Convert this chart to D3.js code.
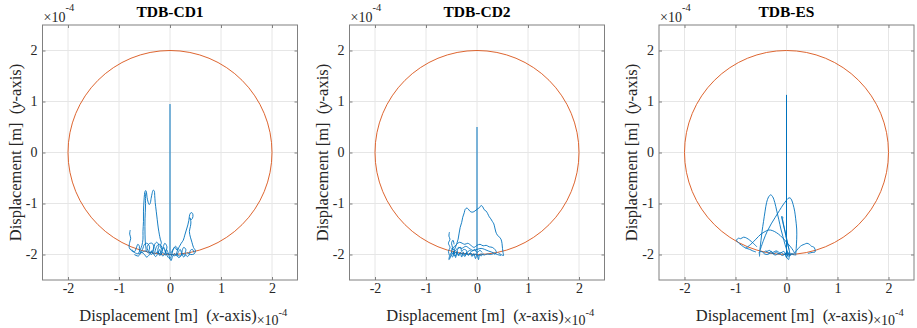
<!DOCTYPE html>
<html>
<head>
<meta charset="utf-8">
<script src="https://cdn.jsdelivr.net/npm/d3@7"></script>
<style>
  body { margin: 0; background: #fff; }
  svg { display: block; }
  svg text { font-family: "Liberation Serif", "Times New Roman", serif; }
</style>
</head>
<body>
<svg id="chart" width="917" height="328"></svg>
<script>
// values in units of 1e-4 m
const titles = ["TDB-CD1", "TDB-CD2", "TDB-ES"];
const ticks = [-2, -1, 0, 1, 2];
const tickLabels = ["-2", "-1", "0", "1", "2"];
const circleRadius = 2;
const spikeTops = [0.95, 0.5, 1.13];

const cd1Traces = [
    [[-0.62,-1.98],[-0.58,-1.9],[-0.55,-1.82],[-0.53,-1.7],[-0.53,-1.55],[-0.52,-1.35],[-0.52,-1.15],[-0.51,-0.95],[-0.5,-0.82],[-0.49,-0.76],[-0.47,-0.75],[-0.46,-0.79],[-0.45,-0.88],[-0.43,-0.97],[-0.41,-1.02],[-0.39,-1.0],[-0.37,-0.9],[-0.35,-0.8],[-0.33,-0.74],[-0.31,-0.75],[-0.3,-0.84],[-0.29,-0.98],[-0.27,-1.15],[-0.25,-1.32],[-0.23,-1.48],[-0.21,-1.6],[-0.19,-1.7],[-0.17,-1.77],[-0.19,-1.84],[-0.15,-1.9],[-0.12,-1.86],[-0.1,-1.93],[-0.07,-2.0]],
    [[-0.46,-1.95],[-0.48,-1.82],[-0.49,-1.6],[-0.49,-1.3],[-0.48,-1.05],[-0.48,-0.86],[-0.47,-0.78]],
    [[0.02,-1.97],[0.06,-1.9],[0.1,-1.86],[0.14,-1.92],[0.18,-1.85],[0.22,-1.78],[0.26,-1.72],[0.29,-1.62],[0.32,-1.52],[0.35,-1.42],[0.37,-1.33],[0.38,-1.25],[0.4,-1.19],[0.43,-1.18],[0.45,-1.22],[0.44,-1.29],[0.41,-1.32],[0.39,-1.28],[0.41,-1.36],[0.4,-1.45],[0.38,-1.55],[0.4,-1.66],[0.43,-1.76],[0.46,-1.86],[0.5,-1.93],[0.47,-1.99],[0.4,-2.0],[0.33,-1.96]],
    [[-0.78,-1.52],[-0.79,-1.6],[-0.77,-1.68],[-0.79,-1.76],[-0.8,-1.86],[-0.76,-1.92],[-0.7,-1.95],[-0.66,-1.87],[-0.63,-1.8],[-0.6,-1.84],[-0.6,-1.92],[-0.55,-1.97]],
    [[-0.75,-1.9],[-0.68,-1.97],[-0.6,-1.98],[-0.54,-1.9],[-0.5,-1.8],[-0.45,-1.78],[-0.4,-1.85],[-0.41,-1.95],[-0.36,-2.0],[-0.32,-1.9],[-0.3,-1.8],[-0.26,-1.76],[-0.22,-1.82],[-0.24,-1.92],[-0.2,-2.02],[-0.16,-1.96],[-0.13,-1.84],[-0.1,-1.78],[-0.06,-1.85],[-0.08,-1.95],[-0.04,-2.05],[0.0,-2.08],[0.04,-1.98],[0.07,-1.88],[0.11,-1.84],[0.15,-1.9],[0.13,-1.98],[0.17,-2.06],[0.22,-2.02],[0.24,-1.92],[0.27,-1.86],[0.31,-1.9],[0.3,-1.98],[0.34,-2.04],[0.38,-2.0],[0.4,-1.92],[0.44,-1.9],[0.47,-1.96]],
    [[-0.7,-2.0],[-0.62,-2.03],[-0.56,-1.96],[-0.5,-2.0],[-0.46,-2.05],[-0.4,-2.0],[-0.36,-1.93],[-0.33,-1.98],[-0.28,-2.04],[-0.24,-1.98],[-0.2,-1.9],[-0.18,-1.97],[-0.14,-2.03],[-0.1,-1.98],[-0.07,-1.9],[-0.04,-1.96],[-0.02,-2.02],[0.02,-2.12],[0.05,-2.04],[0.09,-1.98],[0.12,-2.03],[0.16,-1.96],[0.2,-1.9],[0.23,-1.98],[0.27,-2.05],[0.3,-2.0]],
    [[-0.55,-1.96],[-0.48,-1.93],[-0.42,-1.97],[-0.37,-1.95],[-0.3,-1.99],[-0.25,-1.95],[-0.19,-2.0],[-0.14,-1.96],[-0.09,-2.01],[-0.05,-1.98],[0.0,-2.01],[0.04,-1.99],[0.08,-2.03],[0.13,-1.99],[0.19,-2.03],[0.25,-1.99],[0.3,-2.02]],
    [[-0.42,-1.95],[-0.45,-1.86],[-0.41,-1.79],[-0.35,-1.78],[-0.32,-1.85],[-0.35,-1.94],[-0.4,-1.97]],
    [[-0.3,-1.97],[-0.27,-1.86],[-0.22,-1.8],[-0.17,-1.83],[-0.16,-1.92],[-0.2,-1.98],[-0.25,-1.95]]
];

const cd2Traces = [
    [[-0.47,-1.98],[-0.44,-1.9],[-0.4,-1.8],[-0.37,-1.7],[-0.35,-1.58],[-0.33,-1.47],[-0.3,-1.37],[-0.28,-1.27],[-0.25,-1.18],[-0.23,-1.11],[-0.2,-1.09],[-0.17,-1.11],[-0.14,-1.15],[-0.1,-1.17],[-0.06,-1.16],[-0.02,-1.13],[0.02,-1.1],[0.05,-1.08],[0.08,-1.04],[0.11,-1.06],[0.14,-1.12],[0.18,-1.15],[0.21,-1.2],[0.24,-1.26],[0.27,-1.3],[0.3,-1.35],[0.33,-1.4],[0.35,-1.48],[0.37,-1.56],[0.4,-1.62],[0.44,-1.66],[0.47,-1.7],[0.49,-1.78],[0.5,-1.88],[0.51,-1.96],[0.52,-2.02],[0.47,-2.0],[0.42,-1.97]],
    [[-0.5,-1.92],[-0.45,-1.85],[-0.4,-1.8],[-0.34,-1.76],[-0.29,-1.78],[-0.24,-1.8],[-0.18,-1.78],[-0.12,-1.82],[-0.06,-1.86],[0.0,-1.82],[0.06,-1.8],[0.12,-1.83],[0.18,-1.82],[0.24,-1.85],[0.3,-1.86],[0.35,-1.9],[0.38,-1.96],[0.34,-2.0]],
    [[-0.48,-1.98],[-0.42,-1.92],[-0.36,-1.86],[-0.3,-1.88],[-0.22,-1.84],[-0.15,-1.88],[-0.08,-1.92],[0.0,-1.9],[0.08,-1.88],[0.15,-1.9],[0.22,-1.93],[0.28,-1.95],[0.33,-1.97],[0.4,-2.0],[0.47,-2.02]],
    [[-0.54,-1.56],[-0.55,-1.64],[-0.53,-1.7],[-0.56,-1.78],[-0.53,-1.86],[-0.56,-1.94],[-0.54,-2.02],[-0.55,-2.1],[-0.52,-2.05],[-0.5,-1.95],[-0.48,-1.86],[-0.5,-1.78],[-0.47,-1.72],[-0.45,-1.8]],
    [[-0.52,-1.98],[-0.48,-2.05],[-0.45,-1.95],[-0.42,-2.06],[-0.39,-1.94],[-0.36,-2.03],[-0.33,-1.96],[-0.3,-2.05],[-0.27,-1.95],[-0.24,-2.04],[-0.2,-1.97],[-0.17,-2.02],[-0.13,-1.96],[-0.1,-2.04],[-0.06,-1.98],[-0.03,-2.08],[0.0,-2.0],[0.03,-2.1],[0.05,-2.0],[0.08,-2.03],[0.12,-1.98]],
    [[-0.5,-1.95],[-0.46,-1.99],[-0.41,-1.96],[-0.37,-2.0],[-0.32,-1.97],[-0.27,-2.01],[-0.22,-1.98],[-0.17,-2.0],[-0.12,-1.98],[-0.07,-2.01],[-0.02,-1.99],[0.03,-2.02],[0.08,-1.99],[0.14,-2.01],[0.2,-1.99],[0.27,-2.0],[0.33,-1.98]],
    [[-0.5,-1.88],[-0.44,-1.92],[-0.47,-2.0],[-0.41,-2.02],[-0.38,-1.9],[-0.32,-1.86],[-0.3,-1.94],[-0.26,-1.9],[-0.2,-1.93],[-0.22,-2.0],[-0.15,-1.92],[-0.1,-1.94],[-0.05,-1.9],[0.0,-1.96],[0.06,-1.92],[0.1,-1.96]]
];

const esTraces = [
    [[-0.53,-2.04],[-0.52,-1.9],[-0.5,-1.72],[-0.48,-1.55],[-0.45,-1.35],[-0.42,-1.15],[-0.39,-0.98],[-0.35,-0.87],[-0.31,-0.83],[-0.27,-0.87],[-0.23,-0.98],[-0.19,-1.15],[-0.15,-1.32],[-0.11,-1.5],[-0.07,-1.65],[-0.03,-1.8],[0.01,-1.92],[0.05,-2.0]],
    [[-0.52,-1.92],[-0.45,-1.72],[-0.38,-1.55],[-0.3,-1.4],[-0.22,-1.27],[-0.14,-1.14],[-0.07,-1.03],[-0.01,-0.95],[0.03,-0.9],[0.07,-0.89],[0.1,-0.93],[0.13,-1.02],[0.16,-1.15],[0.18,-1.3],[0.2,-1.5],[0.2,-1.7],[0.19,-1.88],[0.18,-2.02]],
    [[-0.1,-1.25],[-0.08,-1.3],[-0.06,-1.4],[-0.03,-1.55],[0.0,-1.7],[0.03,-1.82],[0.06,-1.95],[0.08,-2.02]],
    [[-0.06,-1.28],[-0.09,-1.26],[-0.07,-1.38],[-0.04,-1.5],[-0.01,-1.62],[0.02,-1.78],[0.05,-1.9]],
    [[-0.8,-1.88],[-0.7,-1.8],[-0.6,-1.7],[-0.5,-1.6],[-0.42,-1.55],[-0.35,-1.52],[-0.28,-1.53],[-0.2,-1.57],[-0.12,-1.63],[-0.05,-1.7],[0.02,-1.78],[0.08,-1.85],[0.13,-1.92],[0.16,-1.98]],
    [[-0.58,-1.85],[-0.65,-1.78],[-0.72,-1.72],[-0.78,-1.68],[-0.84,-1.66],[-0.9,-1.69],[-0.94,-1.68],[-0.98,-1.72],[-0.96,-1.75],[-0.92,-1.79],[-0.88,-1.82],[-0.84,-1.85],[-0.78,-1.88],[-0.72,-1.9],[-0.66,-1.93],[-0.6,-1.95]],
    [[0.15,-1.98],[0.2,-1.92],[0.25,-1.86],[0.3,-1.82],[0.35,-1.8],[0.4,-1.78],[0.45,-1.8],[0.49,-1.84],[0.53,-1.85],[0.56,-1.9],[0.56,-1.95],[0.5,-1.96],[0.42,-1.98]],
    [[-0.55,-1.97],[-0.5,-1.94],[-0.45,-1.96],[-0.4,-1.93],[-0.35,-1.97],[-0.3,-1.94],[-0.25,-1.98],[-0.2,-1.95],[-0.15,-1.99],[-0.1,-1.96],[-0.05,-2.0],[0.0,-1.97],[0.05,-2.01],[0.1,-1.98],[0.15,-2.0]],
    [[-0.45,-1.98],[-0.38,-2.0],[-0.3,-1.97],[-0.22,-2.01],[-0.15,-1.98],[-0.08,-2.02],[-0.02,-1.99],[0.04,-2.03],[0.1,-2.0],[0.16,-2.01]],
    [[-0.4,-1.95],[-0.33,-1.92],[-0.28,-1.96],[-0.2,-1.93],[-0.12,-1.97],[-0.05,-1.94],[0.0,-2.06],[0.02,-1.95],[-0.02,-1.98],[0.04,-2.1],[0.06,-1.96]]
];

const allTraces = [cd1Traces, cd2Traces, esTraces];

const svg = d3.select("#chart");
const lefts = [42.5, 349.5, 659],
      plotTop = 25,
      w = 255,
      h = 255;

allTraces.forEach(function(traces, i) {
    const g = svg.append("g").attr("transform", `translate(${lefts[i]},${plotTop})`);

    const x = d3.scaleLinear().domain([-2.5, 2.5]).range([0, w]);
    const y = d3.scaleLinear().domain([-2.5, 2.5]).range([h, 0]);

    // grid
    g.selectAll(".gx").data(ticks).enter().append("line")
      .attr("x1", d => x(d)).attr("x2", d => x(d))
      .attr("y1", 0).attr("y2", h)
      .attr("stroke", "#e6e6e6");
    g.selectAll(".gy").data(ticks).enter().append("line")
      .attr("y1", d => y(d)).attr("y2", d => y(d))
      .attr("x1", 0).attr("x2", w)
      .attr("stroke", "#e6e6e6");

    // axes with inward ticks
    const fmt = d => tickLabels[ticks.indexOf(d)];
    g.append("g").attr("transform", `translate(0,${h})`)
      .call(d3.axisBottom(x).tickValues(ticks).tickSize(-3).tickPadding(3).tickFormat(fmt));
    g.append("g")
      .call(d3.axisLeft(y).tickValues(ticks).tickSize(-3).tickPadding(5).tickFormat(fmt));
    g.append("g")
      .call(d3.axisTop(x).tickValues(ticks).tickSize(-3).tickFormat(""));
    g.append("g").attr("transform", `translate(${w},0)`)
      .call(d3.axisRight(y).tickValues(ticks).tickSize(-3).tickFormat(""));
    g.selectAll(".domain").remove();
    g.selectAll(".tick line").attr("stroke", "#808080");
    g.selectAll(".tick text").attr("fill", "#262626")
      .style("font-family", "'Liberation Serif', 'Times New Roman', serif")
      .style("font-size", "14px");

    // limit circle
    g.append("ellipse")
      .attr("cx", x(0)).attr("cy", y(0))
      .attr("rx", x(circleRadius) - x(0)).attr("ry", y(0) - y(circleRadius))
      .attr("fill", "none").attr("stroke", "#D95319").attr("stroke-width", 0.9);

    // trajectories
    const line = d3.line().x(d => x(d[0])).y(d => y(d[1])).curve(d3.curveCatmullRom.alpha(0.5));
    g.selectAll(".trace").data(traces).enter().append("path")
      .attr("class", "trace")
      .attr("d", line)
      .attr("fill", "none").attr("stroke", "#0072BD")
      .attr("stroke-width", 0.9).attr("stroke-linejoin", "round");
    g.append("line")
      .attr("x1", x(0)).attr("x2", x(0))
      .attr("y1", y(-2)).attr("y2", y(spikeTops[i]))
      .attr("stroke", "#0072BD").attr("stroke-width", 1);

    // box
    g.append("rect").attr("width", w).attr("height", h)
      .attr("fill", "none").attr("stroke", "#808080").attr("stroke-width", 1);

    // title
    g.append("text").attr("x", w / 2).attr("y", -8)
      .attr("text-anchor", "middle").attr("font-weight", "bold")
      .attr("font-size", 15.5).attr("fill", "#000").text(titles[i]);

    // exponent above y axis
    const ey = g.append("text").attr("x", 1).attr("y", -3.5)
      .attr("font-size", 14).attr("fill", "#262626");
    ey.append("tspan").text("\u00d710");
    ey.append("tspan").attr("dy", -11).attr("font-size", 10.5).text("-4");

    // x label
    const xl = g.append("text").attr("x", w / 2 - 2).attr("y", h + 41)
      .attr("text-anchor", "middle").attr("font-size", 16.5)
      .attr("fill", "#262626").style("white-space", "pre");
    xl.append("tspan").text("Displacement [m]  (");
    xl.append("tspan").attr("font-style", "italic").text("x");
    xl.append("tspan").text("-axis)");
    const xlEnd = w / 2 - 2 + xl.node().getComputedTextLength() / 2;
    const ex = g.append("text").attr("x", xlEnd).attr("y", h + 45)
      .attr("font-size", 14).attr("fill", "#262626");
    ex.append("tspan").text("\u00d710");
    ex.append("tspan").attr("dy", -9).attr("font-size", 10.5).text("-4");

    // y label
    const yl = g.append("text")
      .attr("transform", `translate(-22,${h / 2}) rotate(-90)`)
      .attr("text-anchor", "middle").attr("font-size", 16.5)
      .attr("fill", "#262626").style("white-space", "pre");
    yl.append("tspan").text("Displacement [m]  (");
    yl.append("tspan").attr("font-style", "italic").text("y");
    yl.append("tspan").text("-axis)");
});
</script>
</body>
</html>
